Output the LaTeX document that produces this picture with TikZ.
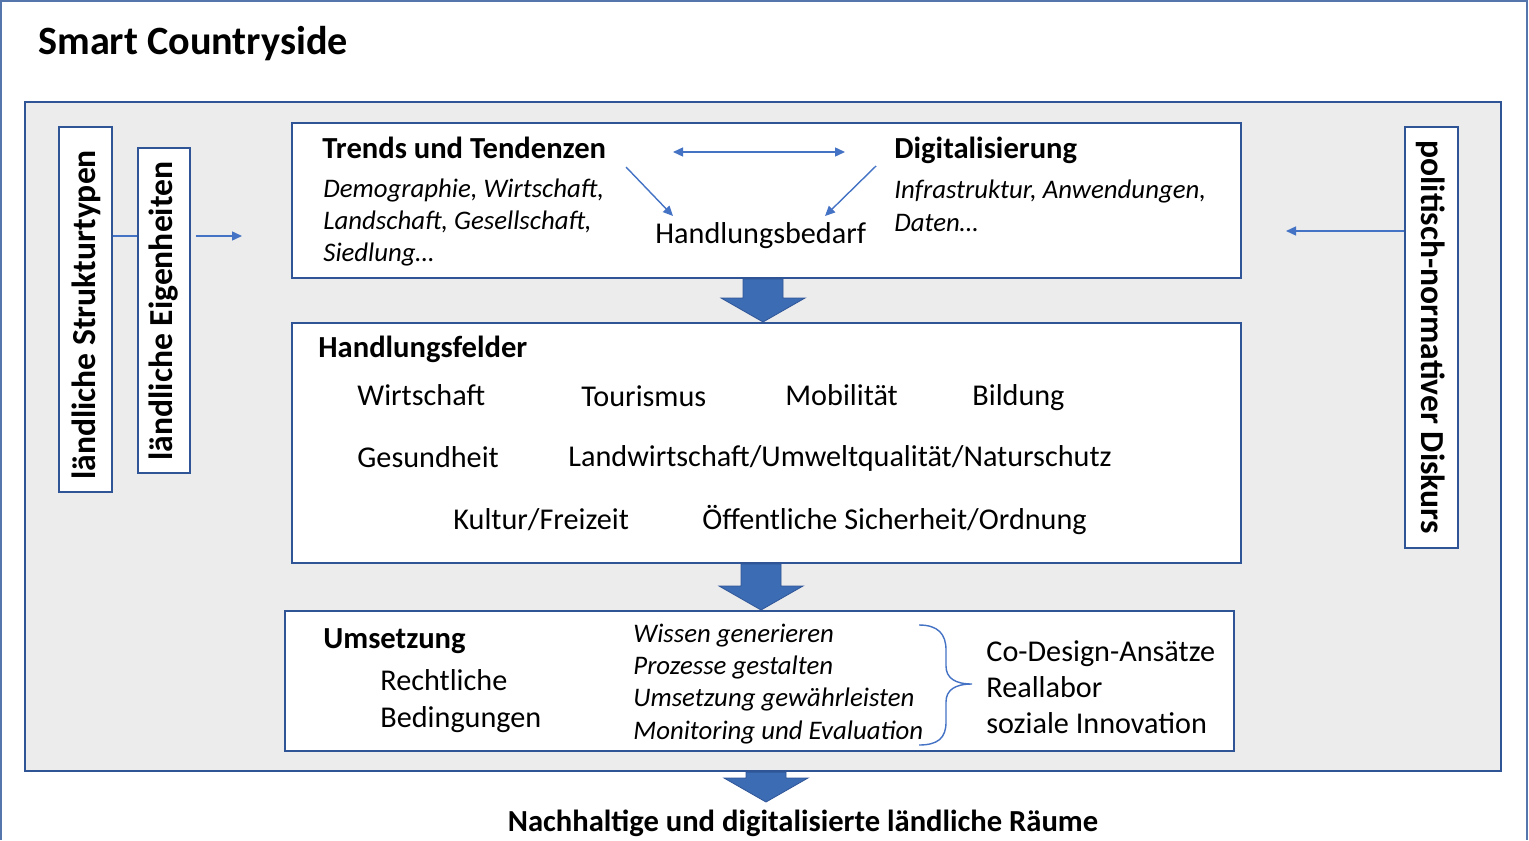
\documentclass[tikz,border=0pt]{standalone}
\usepackage{fontspec}
\setmainfont{Carlito}
\usetikzlibrary{arrows.meta,calc,fit}
\definecolor{boxblue}{RGB}{47,85,151}
\definecolor{frameblue}{RGB}{84,118,172}
\definecolor{arrowblue}{RGB}{60,108,180}
\definecolor{lineblue}{RGB}{68,114,196}
\definecolor{panelgray}{RGB}{236,236,236}
\newcommand{\boxwidth}{1pt}
\newcommand{\thinwidth}{0.7pt}
\newcommand{\bigarrow}[3]{%
  \path (#1,0 |- #2.south) coordinate (top) (#1,0 |- #3.north) coordinate (tip);
  \filldraw[blockarrow] ($(top)+(-20,0)$) -- ($(top)+(20,0)$) -- ($(tip)+(20,-24)$)
    -- ($(tip)+(42,-24)$) -- (tip) -- ($(tip)+(-42,-24)$) -- ($(tip)+(-20,-24)$) -- cycle;}

\begin{document}
\begin{tikzpicture}[x=0.5pt,y=-0.5pt,
  box/.style={draw=boxblue, line width=\boxwidth, fill=white, inner sep=0},
  sidebox/.style={draw=boxblue, line width=\thinwidth, fill=white, inner sep=0},
  txt/.style={anchor=base west, inner sep=0, font=\fontsize{15.1}{17}\selectfont},
  head/.style={txt, font=\fontsize{15.3}{17}\selectfont\bfseries},
  ital/.style={txt, font=\fontsize{13.4}{15}\selectfont\itshape},
  sidetext/.style={inner sep=0, font=\fontsize{16.8}{19}\selectfont\bfseries},
  thin/.style={draw=lineblue, line width=\thinwidth},
  arrow/.style={thin, -{Triangle[length=5pt,width=4.5pt]}},
  twoarrow/.style={thin, {Triangle[length=5pt,width=4.5pt]}-{Triangle[length=5pt,width=4.5pt]}},
  blockarrow/.style={fill=arrowblue, draw=boxblue, line width=0.4pt}]
\useasboundingbox (0,0) rectangle (1529,840);
% frame and panel
\draw[frameblue, line width=1pt] (1,840) -- (1,1) -- (1527,1) -- (1527,840);
\node[txt, font=\fontsize{20.1}{23}\selectfont\bfseries] (title) at (38,55) {Smart Countryside};
\node[fit={(25,102) (1501,771)}, draw=boxblue, line width=1.2pt, fill=panelgray, inner sep=0] (panel) {};

% side boxes
\node[sidebox, fit={(59,127) (112,492)}] (struktur) {};
\node[sidebox, fit={(138,148) (190,473)}] (eigen) {};
\node[sidebox, fit={(1405,127) (1458,548)}] (diskurs) {};
\node[sidetext, rotate=90] (strukturtext) at (86,315) {ländliche Strukturtypen};
\node[sidetext, rotate=90] (eigentext) at (164,311) {ländliche Eigenheiten};
\node[sidetext, rotate=-90] (diskurstext) at (1431,337) {politisch-normativer Diskurs};
\coordinate (inL) at (242,236);
\coordinate (inR) at (1286,231);
\draw[thin] (struktur.east |- inL) -- (eigen.west |- inL);
\draw[arrow] ($(eigen.east |- inL)+(5,0)$) -- (inL);
\draw[arrow] (diskurs.west |- inR) -- (inR);

% Trends und Tendenzen
\node[box, fit={(292,123) (1241,278)}] (trendsbox) {};
\node[head] (trends) at (322,158) {Trends und Tendenzen};
\node[ital] (trends1) at (323,197) {Demographie, Wirtschaft,};
\node[ital] (trends2) at (323,229) {Landschaft, Gesellschaft,};
\node[ital] (trends3) at (323,261) {Siedlung…};
\node[head] (digi) at (894,158) {Digitalisierung};
\node[ital] (digi1) at (894,198) {Infrastruktur, Anwendungen,};
\node[ital] (digi2) at (894,231) {Daten…};
\node[txt] (bedarf) at (655,243) {Handlungsbedarf};
\coordinate (dl) at (673,152);
\coordinate (dr) at (845,152);
\coordinate (tl) at (626,167);
\coordinate (bl) at (673,216);
\coordinate (tr) at (876,166);
\coordinate (br) at (825,216);
\draw[twoarrow] (dl) -- (dr);
\draw[arrow] (tl) -- (bl);
\draw[arrow] (tr) -- (br);

% Handlungsfelder
\node[box, fit={(292,323) (1241,563)}] (felderbox) {};
\node[head] (felder) at (318,357) {Handlungsfelder};
\node[txt] (f1) at (357,405) {Wirtschaft};
\node[txt] (f2) at (581,406) {Tourismus};
\node[txt] (f3) at (785,405) {Mobilität};
\node[txt] (f4) at (972,405) {Bildung};
\node[txt] (f5) at (357,467) {Gesundheit};
\node[txt] (f6) at (568,466) {Landwirtschaft/Umweltqualität/Naturschutz};
\node[txt] (f7) at (453,529) {Kultur/Freizeit};
\node[txt] (f8) at (702,529) {Öffentliche Sicherheit/Ordnung};

% Umsetzung
\node[box, fit={(285,611) (1234,751)}] (umsetzbox) {};
\node[head] (umsetz) at (323,648) {Umsetzung};
\node[txt] (recht1) at (380,690) {Rechtliche};
\node[txt] (recht2) at (380,727) {Bedingungen};
\node[ital] (u1) at (633,642) {Wissen generieren};
\node[ital] (u2) at (633,674) {Prozesse gestalten};
\node[ital] (u3) at (633,706) {Umsetzung gewährleisten};
\node[ital] (u4) at (633,739) {Monitoring und Evaluation};
\node[txt] (co1) at (986,661) {Co-Design-Ansätze};
\node[txt] (co2) at (986,697) {Reallabor};
\node[txt] (co3) at (986,733) {soziale Innovation};
\draw[thin] (919,625) .. controls (938,625) and (946,634) .. (946,650) -- (946,666)
  .. controls (946,678) and (955,684) .. (972,684)
  .. controls (955,684) and (946,690) .. (946,702) -- (946,722)
  .. controls (946,738) and (938,745) .. (919,745);

% block arrows
\node[head, anchor=base] (goal) at (803,831) {Nachhaltige und digitalisierte ländliche Räume};
\coordinate (goaltop) at (766,802);
\bigarrow{763}{trendsbox}{felderbox}
\bigarrow{761}{felderbox}{umsetzbox}
\bigarrow{766}{panel}{goaltop}
\end{tikzpicture}
\end{document}
